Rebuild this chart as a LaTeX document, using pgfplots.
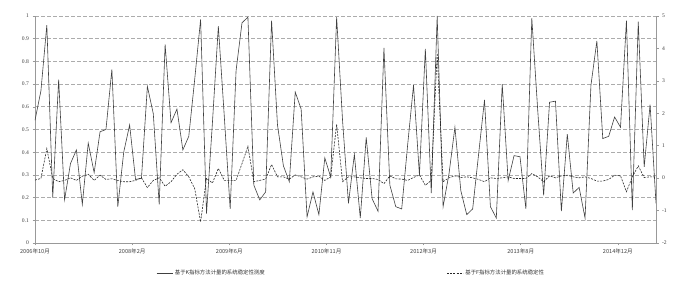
\documentclass[border=0pt]{standalone}
\usepackage{pgfplots}
\usepackage{pgfplotstable}
\pgfplotsset{compat=1.18}
\usepackage{fontspec}
\setmainfont{Liberation Serif}
\newfontfamily\cjk{Noto Sans CJK SC}
\pgfplotstableread{
x y
0 0.54
1 0.67
2 0.96
3 0.20
4 0.72
5 0.19
6 0.35
7 0.41
8 0.17
9 0.44
10 0.31
11 0.49
12 0.50
13 0.765
14 0.16
15 0.40
16 0.52
17 0.28
18 0.285
19 0.69
20 0.57
21 0.17
22 0.875
23 0.53
24 0.59
25 0.41
26 0.47
27 0.72
28 0.985
29 0.13
30 0.53
31 0.955
32 0.56
33 0.15
34 0.76
35 0.97
36 0.995
37 0.255
38 0.19
39 0.225
40 0.98
41 0.52
42 0.34
43 0.27
44 0.665
45 0.59
46 0.115
47 0.225
48 0.125
49 0.375
50 0.29
51 0.995
52 0.54
53 0.175
54 0.39
55 0.11
56 0.465
57 0.195
58 0.14
59 0.86
60 0.255
61 0.16
62 0.15
63 0.43
64 0.695
65 0.30
66 0.855
67 0.22
68 1.0
69 0.16
70 0.305
71 0.51
72 0.23
73 0.125
74 0.15
75 0.39
76 0.63
77 0.16
78 0.11
79 0.70
80 0.275
81 0.385
82 0.38
83 0.15
84 0.99
85 0.585
86 0.21
87 0.62
88 0.625
89 0.14
90 0.48
91 0.22
92 0.245
93 0.11
94 0.695
95 0.89
96 0.46
97 0.47
98 0.555
99 0.51
100 0.98
101 0.145
102 0.975
103 0.335
104 0.61
105 0.175
}\tabK
\pgfplotstableread{
x y
0 -0.06
1 -0.01
2 0.91
3 -0.01
4 -0.11
5 -0.07
6 0.01
7 -0.07
8 0.06
9 0.12
10 -0.07
11 0.09
12 -0.04
13 -0.02
14 -0.07
15 -0.11
16 -0.11
17 -0.07
18 0.01
19 -0.29
20 -0.07
21 0.01
22 -0.25
23 -0.11
24 0.12
25 0.26
26 0.04
27 -0.32
28 -1.35
29 -0.01
30 -0.15
31 0.30
32 -0.07
33 -0.07
34 -0.07
35 0.45
36 0.98
37 -0.11
38 -0.07
39 -0.03
40 0.42
41 0.04
42 0.04
43 -0.03
44 0.10
45 0.04
46 -0.03
47 0.04
48 0.06
49 -0.07
50 0.04
51 1.66
52 -0.11
53 0.04
54 0.04
55 0.01
56 -0.01
57 -0.01
58 -0.04
59 -0.17
60 0.07
61 -0.02
62 -0.03
63 -0.07
64 0.02
65 0.10
66 -0.22
67 -0.07
68 3.85
69 -0.11
70 0.01
71 0.07
72 0.02
73 0.04
74 0.01
75 -0.04
76 -0.11
77 0.01
78 -0.01
79 0.01
80 0.04
81 -0.01
82 -0.01
83 -0.01
84 0.14
85 0.04
86 -0.11
87 0.07
88 0.01
89 0.07
90 0.09
91 0.04
92 0.01
93 0.04
94 -0.01
95 -0.09
96 -0.09
97 -0.04
98 0.09
99 0.07
100 -0.42
101 0.04
102 0.38
103 0.02
104 0.04
105 0.04
}\tabF
\begin{document}
\begin{tikzpicture}
\pgfplotsset{
  base/.style={
    scale only axis, width=621pt, height=227pt,
    xmin=0, xmax=105,
    tick label style={font=\fontsize{5.6}{6.5}\selectfont, text=black!75},
    /pgf/number format/assume math mode=true,
    axis line style={gray!80, line width=0.6pt},
    tick style={gray!80, line width=0.5pt},
  }
}
\begin{axis}[base, name=main,
  ymin=0, ymax=1,
  ytick={0,0.1,...,1.01},
  yticklabels={0,0.1,0.2,0.3,0.4,0.5,0.6,0.7,0.8,0.9,1},
  axis y line*=left, axis x line*=bottom,
  xtick={0,16.43,32.85,49.28,65.70,82.13,98.55},
  xticklabels={{\cjk 2006年10月},{\cjk 2008年2月},{\cjk 2009年6月},{\cjk 2010年11月},{\cjk 2012年3月},{\cjk 2013年8月},{\cjk 2014年12月}},
  xtick align=outside, ytick align=outside,
  major tick length=2.5pt,
  ymajorgrids, grid style={gray!65, dash pattern=on 4pt off 2pt, line width=0.6pt},
  legend style={at={(0.195,-0.132)}, anchor=west, draw=none, fill=none, inner sep=0pt,
    legend columns=2, font=\cjk\fontsize{5.4}{6.5}\selectfont, text=black!80,
    /tikz/every even column/.append style={column sep=180pt}},
  legend cell align=left,
  legend image code/.code={\draw[#1] (0pt,0pt) -- (16pt,0pt);},
]
\addplot[black!75, line width=0.6pt] table[x=x,y=y] {\tabK};
\addlegendentry{基于K指标方法计量的系统稳定性测度}
\addlegendimage{black!85, line width=0.6pt, dash pattern=on 2pt off 1.2pt}
\addlegendentry{基于F指标方法计量的系统稳定性}
\end{axis}
\begin{axis}[base,
  ymin=-2, ymax=5, ytick={-2,-1,...,5},
  axis y line*=right, axis x line=none,
  ytick align=outside, major tick length=2.5pt,
]
\addplot[black!85, line width=0.6pt, dash pattern=on 2pt off 1.2pt] table[x=x,y=y] {\tabF};
\end{axis}
\path (main.south west) ++(-35pt,-56pt) rectangle ++(684pt,299pt);
\end{tikzpicture}
\end{document}
